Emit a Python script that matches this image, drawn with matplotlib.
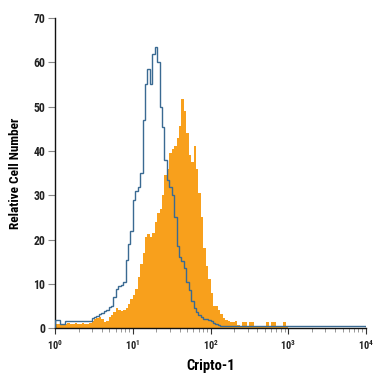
import numpy as np
import matplotlib
matplotlib.use("Agg")
import matplotlib.pyplot as plt
from matplotlib.ticker import LogLocator

# 32 log-spaced channels per decade, 10^0 .. 10^4 (128 channels)
bins_per_decade = 32
n_decades = 4

isotype = [
    1.9, 1.9, 1.0, 1.0, 1.6, 1.6, 1.6, 1.6, 1.6, 1.6, 1.6, 1.6, 1.6, 1.6, 1.6, 2.2,
    2.6, 2.8, 3.1, 3.4, 3.8, 4.2, 4.8, 5.0, 7.0, 8.8, 9.5, 9.8, 10.5, 15.3, 19.0, 22.0,
    29.0, 31.0, 31.8, 35.0, 47.0, 55.0, 58.5, 55.0, 61.8, 63.5, 60.0, 50.0, 45.5, 38.0,
    33.5, 31.8, 30.0, 25.0, 18.5, 16.0, 15.2, 13.5, 10.5, 8.5, 6.2, 4.5, 3.7, 3.0, 2.4,
    2.0, 2.0, 1.8, 1.6, 1.2, 0.9, 0.6, 0.5, 0.5, 0.5, 0.5, 0.5, 0.5, 0.5, 0.5, 0.5,
    0.5, 0.5, 0.5, 0.5, 0.5, 0.5, 0.5, 0.5, 0.5, 0.5, 0.5, 0.5, 0.5, 0.5, 0.5, 0.5,
    0.5, 0.5, 0.5, 0.5, 0.5, 0.5, 0.5, 0.5, 0.5, 0.5, 0.5, 0.5, 0.5, 0.5, 0.5, 0.5,
    0.5, 0.5, 0.5, 0.5, 0.5, 0.5, 0.5, 0.5, 0.5, 0.5, 0.5, 0.5, 0.5, 0.5, 0.5, 0.5,
    0.5, 0.5, 0.5,
]

cripto = [
    1.0, 1.0, 0.9, 1.0, 1.0, 1.1, 1.0, 1.0, 1.1, 1.0, 1.0, 1.1, 1.0, 1.0, 1.2, 1.5,
    2.0, 2.3, 2.5, 2.0, 1.4, 1.7, 2.4, 3.0, 3.6, 4.5, 4.2, 3.9, 4.2, 4.6, 5.5, 6.5,
    7.5, 8.8, 11.5, 14.5, 17.0, 20.5, 21.2, 20.5, 21.5, 24.0, 26.0, 27.0, 30.0, 34.5,
    36.0, 39.5, 40.5, 41.0, 43.0, 45.7, 51.7, 49.0, 44.0, 39.0, 37.4, 41.0, 36.0, 30.6,
    25.0, 18.0, 14.0, 11.0, 8.0, 5.0, 5.0, 4.0, 3.2, 2.2, 1.9, 1.7, 1.3, 1.3, 1.5, 0.6,
    0.5, 1.4, 1.4, 0.5, 1.4, 1.3, 0.5, 0.5, 0.5, 0.5, 0.5, 1.4, 0.5, 1.4, 1.4, 0.5,
    0.5, 0.5, 1.4, 0.5, 0.0, 0.0, 0.0, 0.0, 0.0, 0.0, 0.0, 0.0, 0.0, 0.0, 0.0, 0.0,
    0.0, 0.0, 0.0, 0.0, 0.0, 0.0, 0.0, 0.0, 0.0, 0.0, 0.0, 0.0, 0.0, 0.0, 0.0, 0.0,
    0.0, 0.0, 0.0, 0.0,
]

y_ticks = [0, 10, 20, 30, 40, 50, 60, 70]
x_label = "Cripto-1"
y_label = "Relative Cell Number"

n_bins = bins_per_decade * n_decades
isotype = isotype[:n_bins]
cripto = cripto[:n_bins]
edges = 10 ** (np.arange(n_bins + 1) / bins_per_decade)

plt.rcParams['font.family'] = ['Roboto Condensed', 'Liberation Sans', 'DejaVu Sans']
plt.rcParams['font.weight'] = 'bold'
plt.rcParams['mathtext.default'] = 'regular'

fig = plt.figure(figsize=(3.75, 3.75), dpi=100)
ax = fig.add_axes([0.147, 0.125, 0.829, 0.827])

ax.stairs(cripto, edges, fill=True, color='#f8a01c', linewidth=0, zorder=2)
ax.stairs(isotype, edges, color='#3a6a92', linewidth=1.0, zorder=3)

ax.set_xscale('log')
ax.set_xlim(1, 1e4)
ax.set_ylim(0, 70)
ax.set_yticks(y_ticks)
ax.xaxis.set_major_locator(LogLocator(base=10, numticks=10))
ax.xaxis.set_minor_locator(LogLocator(base=10, subs=np.arange(2, 10), numticks=20))

for s in ['top', 'right']:
    ax.spines[s].set_visible(False)
for s in ['left', 'bottom']:
    ax.spines[s].set_linewidth(1.0)
    ax.spines[s].set_color('#111111')

ax.tick_params(axis='y', direction='out', length=5, width=0.8, color='#888888',
               labelsize=8.5, labelcolor='#222222', pad=2)
ax.tick_params(axis='x', which='major', direction='out', length=4.5, width=0.8,
               color='#333333', labelsize=7.5, labelcolor='#222222', pad=3)
ax.tick_params(axis='x', which='minor', direction='out', length=3, width=0.6,
               color='#888888')

ax.set_xlabel(x_label, fontsize=10.5, fontweight='bold', labelpad=5)
ax.set_ylabel(y_label, fontsize=9.5, fontweight='bold', labelpad=8)

fig.savefig('out.png', dpi=100)
